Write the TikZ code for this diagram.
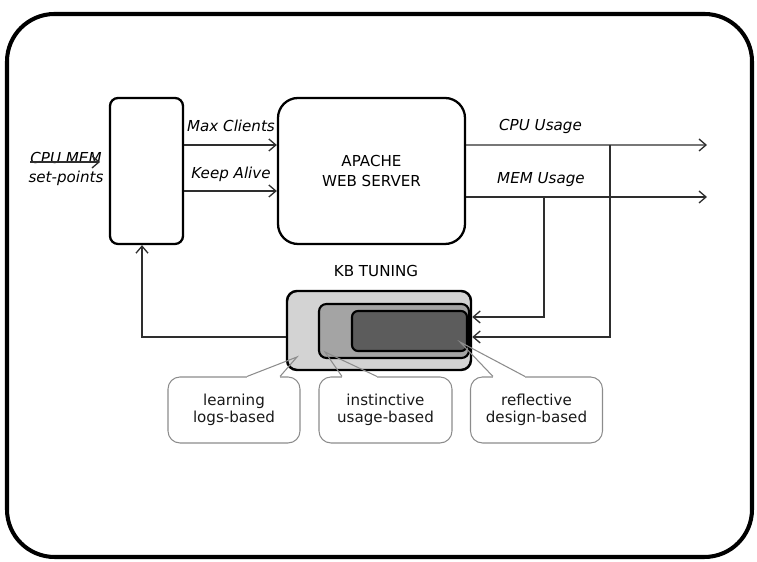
\documentclass[tikz,border=0pt]{standalone}
\usepackage{fontspec}
\setmainfont{DejaVu Sans}
\usepackage{xcolor}
\usepackage{tikz}
\usetikzlibrary{arrows.meta}
\definecolor{KBLight}{HTML}{D3D3D3}
\definecolor{KBMid}{HTML}{A4A4A4}
\definecolor{KBDark}{HTML}{5C5C5C}
\definecolor{BubbleLine}{HTML}{8C8C8C}
\definecolor{SigLine}{HTML}{2E2E2E}

\begin{document}
\begin{tikzpicture}[x=1cm,y=1cm,
  txt/.style={font=\fontsize{8.6}{11}\selectfont,inner sep=0pt},
  itxt/.style={txt,font=\fontsize{8.6}{11}\selectfont\itshape},
  blk/.style={draw=black,line width=1.3pt,rounded corners=.16cm,inner sep=0pt},
  sig/.style={draw=SigLine,line width=.75pt,-{Straight Barb[length=1.4mm,width=2.4mm]}},
  bubble/.style={draw=BubbleLine,line width=.6pt,rounded corners=.24cm,minimum width=2.64cm,minimum height=1.32cm,align=center,inner sep=0pt,font=\fontsize{8.6}{10}\selectfont,text=black!90},
  tip/.style={draw=BubbleLine,line width=.6pt},
  gap/.style={draw=white,line width=1.4pt}]
\path[use as bounding box] (0,0) rectangle (15.14,11.24);
\draw[line width=2.3pt,rounded corners=.95cm] (0.14,0.10) rectangle (15.04,10.96);
\node[blk,minimum width=1.46cm,minimum height=2.92cm] (ctrl) at (2.93,7.82) {};
\node[blk,rounded corners=.4cm,minimum width=3.74cm,minimum height=2.92cm,txt,align=center] (apache) at (7.43,7.82) {APACHE\\WEB SERVER};
\node[itxt,align=center] (setpt) at (1.32,7.86) {CPU MEM\\set-points};
\coordinate (spin) at (0.60,8.00);
\coordinate (spout) at (2.00,8.00);
\draw[sig] (spin) -- (spout);
\draw[sig] ([yshift=.52cm]ctrl.east) -- ([yshift=.52cm]apache.west);
\draw[sig] ([yshift=-.40cm]ctrl.east) -- ([yshift=-.40cm]apache.west);
\node[itxt] (maxcl) at (4.62,8.73) {Max Clients};
\node[itxt] (keepal) at (4.62,7.76) {Keep Alive};
\coordinate (cpuEnd) at (14.14,8.34);
\coordinate (memEnd) at (14.14,7.30);
\draw[sig] ([yshift=.52cm]apache.east) -- (cpuEnd);
\draw[sig] ([yshift=-.52cm]apache.east) -- (memEnd);
\node[itxt] (cpuu) at (10.81,8.72) {CPU Usage};
\node[itxt] (memu) at (10.82,7.65) {MEM Usage};
\node[txt] (kbt) at (7.52,5.82) {KB TUNING};
\node[blk,fill=KBLight,line width=1.4pt,rounded corners=.2cm,minimum width=3.68cm,minimum height=1.58cm] (kb) at (7.58,4.63) {};
\node[blk,fill=KBMid,line width=1.2pt,rounded corners=.15cm,minimum width=3.00cm,minimum height=1.08cm] (kbmid) at (7.88,4.62) {};
\node[blk,fill=KBDark,line width=1.2pt,rounded corners=.12cm,minimum width=2.30cm,minimum height=0.80cm] (kbin) at (8.19,4.62) {};
\coordinate (memTap) at (10.88,7.30);
\coordinate (cpuTap) at (12.20,8.34);
\draw[sig] (memTap) |- ([yshift=.27cm]kb.east);
\draw[sig] (cpuTap) |- ([yshift=-.13cm]kb.east);
\draw[sig] ([yshift=-.13cm]kb.west) -| ([xshift=-.09cm]ctrl.south);
\node[bubble] (learn) at (4.68,3.04) {learning\\logs-based};
\node[bubble,minimum width=2.66cm] (instinct) at (7.71,3.04) {instinctive\\usage-based};
\node[bubble] (reflect) at (10.73,3.04) {reflective\\design-based};
\coordinate (learnTip) at (5.94,4.10);
\coordinate (instinctTip) at (6.50,4.20);
\coordinate (reflectTip) at (9.20,4.40);
\draw[gap] ([xshift=.26cm]learn.north) -- ([xshift=.92cm]learn.north);
\draw[tip] ([xshift=.26cm]learn.north) -- (learnTip) -- ([xshift=.92cm]learn.north);
\draw[gap] ([xshift=-.87cm]instinct.north) -- ([xshift=-.17cm]instinct.north);
\draw[tip] ([xshift=-.87cm]instinct.north) -- (instinctTip) -- ([xshift=-.17cm]instinct.north);
\draw[gap] ([xshift=-.87cm]reflect.north) -- ([xshift=-.23cm]reflect.north);
\draw[tip] ([xshift=-.87cm]reflect.north) -- (reflectTip) -- ([xshift=-.23cm]reflect.north);
\end{tikzpicture}
\end{document}
